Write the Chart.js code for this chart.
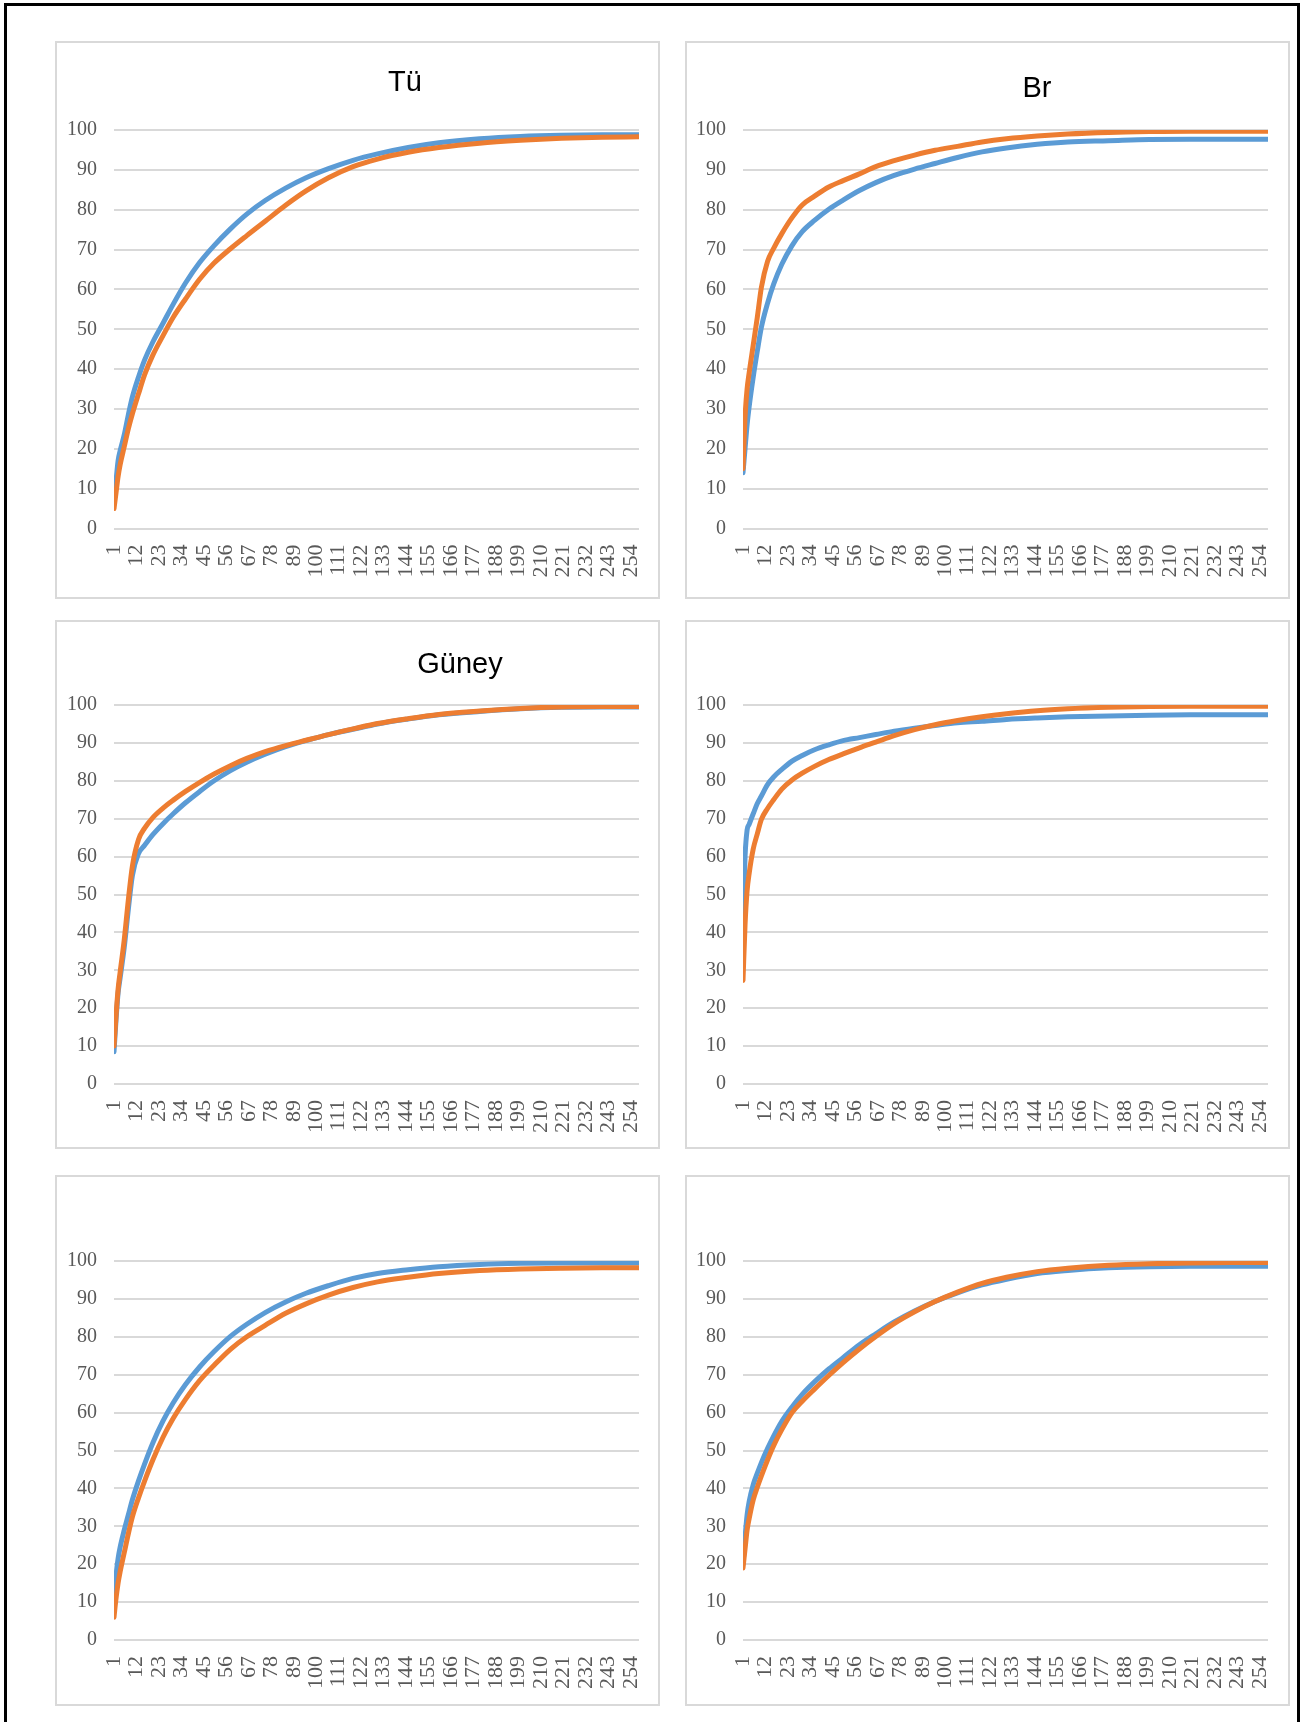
<!DOCTYPE html>
<html>
<head>
<meta charset="utf-8">
<title>Cumulative curves</title>
<script src="https://cdn.jsdelivr.net/npm/chart.js@4.4.1/dist/chart.umd.min.js"></script>
<style>
  body { margin: 0; background: #fff; }
  #page { position: relative; width: 1304px; height: 1722px; overflow: hidden; background: #fff; }
  #frame { position: absolute; left: 4px; top: 3px; width: 1296px; height: 1740px; border: 3px solid #000; box-sizing: border-box; }
  .panel { position: absolute; box-sizing: border-box; border: 2px solid #d9d9d9; background: #fff; }
  .panel canvas { display: block; }
  .title { position: absolute; font-family: "Liberation Sans", Arial, sans-serif; font-size: 29px; line-height: 29px; color: #000; transform: translateX(-50%); white-space: nowrap; }
</style>
</head>
<body>
<div id="page">
  <div id="frame"></div>
</div>
<script>
const sampleAt = [1, 2, 3, 4, 6, 8, 10, 13, 16, 20, 25, 30, 36, 43, 50, 58, 66, 75, 85, 95, 106, 118, 130, 145, 160, 180, 200, 220, 240, 258];
const xTickLabels = [1, 12, 23, 34, 45, 56, 67, 78, 89, 100, 111, 122, 133, 144, 155, 166, 177, 188, 199, 210, 221, 232, 243, 254];
const yTickLabels = [0, 10, 20, 30, 40, 50, 60, 70, 80, 90, 100];
const lastCategory = 258;

// Tü
const tuBlue   = [7, 12, 17, 19.5, 23.5, 28.5, 33, 38, 42.3, 46.8, 51.5, 56.3, 61.6, 66.8, 71, 75.2, 78.9, 82.3, 85.4, 88, 90.3, 92.4, 94, 95.6, 96.8, 97.8, 98.4, 98.7, 98.8, 98.8];
const tuOrange = [5, 9, 13, 16, 20.5, 25, 28.8, 33.8, 38.6, 43.5, 48.4, 53, 57.6, 62.6, 66.6, 70.2, 73.5, 77.1, 81.1, 84.7, 88, 90.8, 92.7, 94.4, 95.6, 96.7, 97.4, 97.9, 98.2, 98.3];
// Br
const brBlue   = [14, 20, 26, 30.5, 38, 44.5, 50.5, 56.5, 61.3, 66.3, 71, 74.5, 77.3, 80.1, 82.4, 84.8, 86.8, 88.6, 90.2, 91.6, 93.1, 94.5, 95.5, 96.4, 97, 97.3, 97.6, 97.7, 97.7, 97.7];
const brOrange = [15, 28, 35, 39, 46, 53, 60.5, 67, 70.3, 74, 78, 81.2, 83.4, 85.7, 87.3, 89, 90.8, 92.3, 93.7, 94.9, 95.9, 97, 97.8, 98.5, 99, 99.4, 99.6, 99.7, 99.7, 99.7];
// Güney
const guneyBlue   = [8.5, 17, 24, 28, 36, 46, 55, 60.8, 63, 65.8, 68.7, 71.3, 74.2, 77.2, 80, 82.7, 84.9, 87, 89, 90.6, 92.2, 93.6, 95, 96.3, 97.4, 98.3, 99, 99.4, 99.5, 99.5];
const guneyOrange = [10, 18, 25, 29.5, 38, 48.5, 57.5, 64.5, 67.5, 70.3, 72.8, 74.9, 77.2, 79.6, 81.8, 84, 85.9, 87.7, 89.3, 90.7, 92.2, 93.7, 95.1, 96.4, 97.5, 98.4, 99.1, 99.5, 99.6, 99.6];
// middle right
const midBlue   = [42, 60, 67, 68.5, 71.3, 74, 76, 79, 81, 83, 85.2, 86.7, 88.2, 89.5, 90.6, 91.4, 92.2, 93.1, 93.9, 94.6, 95.3, 95.7, 96.2, 96.6, 96.9, 97.1, 97.3, 97.4, 97.4, 97.4];
const midOrange = [27.3, 42, 51, 55.5, 62, 66, 69.8, 72.7, 75, 77.8, 80.2, 82, 83.8, 85.6, 87.1, 88.7, 90.2, 91.9, 93.5, 94.8, 95.9, 96.9, 97.7, 98.5, 99, 99.4, 99.6, 99.7, 99.7, 99.7];
// bottom left
const lowLeftBlue   = [10, 17, 21.5, 24.5, 29, 33, 37, 42, 46.5, 52, 57.8, 62.6, 67.4, 72.1, 76.1, 80.1, 83.3, 86.4, 89.2, 91.5, 93.5, 95.4, 96.7, 97.7, 98.5, 99.1, 99.4, 99.5, 99.5, 99.5];
const lowLeftOrange = [6, 11, 15, 18, 23, 28, 32.5, 37.5, 42, 47.5, 53.5, 58.5, 63.5, 68.5, 72.5, 76.7, 80, 83, 86.2, 88.7, 91, 93, 94.5, 95.7, 96.7, 97.5, 97.9, 98.1, 98.2, 98.2];
// bottom right
const lowRightBlue   = [20, 27, 33, 36.5, 41, 44, 46.8, 50.5, 53.8, 57.7, 61.5, 64.8, 68.1, 71.5, 74.5, 77.9, 80.8, 83.9, 86.8, 89.3, 91.6, 93.7, 95.2, 96.7, 97.5, 98.2, 98.5, 98.6, 98.6, 98.6];
const lowRightOrange = [19, 24, 29, 32, 37, 40.3, 43.3, 47.5, 51.3, 55.5, 60, 63, 66.2, 69.8, 73.2, 76.8, 80.1, 83.5, 86.6, 89.3, 91.8, 94.1, 95.7, 97.2, 98.1, 98.9, 99.3, 99.5, 99.6, 99.6];

const BLUE = "#5b9bd5";
const ORANGE = "#ed7d31";
const GRID = "#d9d9d9";
const LABEL = "#595959";

// layout of the six boxes
const panels = [
    { title: "Tü",    titleX: 405,  titleTop: 67,  left: 55,  top: 41,   height: 558, plotTop: 87,  xAxisH: 68.5, yAxisW: 57, padRight: 19, blue: tuBlue,       orange: tuOrange },
    { title: "Br",    titleX: 1037, titleTop: 73,  left: 685, top: 41,   height: 558, plotTop: 87,  xAxisH: 68.5, yAxisW: 56, padRight: 20, blue: brBlue,       orange: brOrange },
    { title: "Güney", titleX: 460,  titleTop: 649, left: 55,  top: 620,  height: 529, plotTop: 83,  xAxisH: 63,   yAxisW: 57, padRight: 19, blue: guneyBlue,    orange: guneyOrange },
    { title: "",      titleX: 0,    titleTop: 0,   left: 685, top: 620,  height: 529, plotTop: 83,  xAxisH: 63,   yAxisW: 56, padRight: 20, blue: midBlue,      orange: midOrange },
    { title: "",      titleX: 0,    titleTop: 0,   left: 55,  top: 1175, height: 531, plotTop: 84,  xAxisH: 64,   yAxisW: 57, padRight: 19, blue: lowLeftBlue,  orange: lowLeftOrange },
    { title: "",      titleX: 0,    titleTop: 0,   left: 685, top: 1175, height: 531, plotTop: 84,  xAxisH: 64,   yAxisW: 56, padRight: 20, blue: lowRightBlue, orange: lowRightOrange }
];

Chart.defaults.font.family = "'Liberation Serif', 'Times New Roman', serif";

function toPoints(values) {
    return sampleAt.map((x, i) => ({ x: x, y: values[i] }));
}

function renderPanel(p) {
    const page = document.getElementById("page");
    const box = document.createElement("div");
    box.className = "panel";
    box.style.left = p.left + "px";
    box.style.top = p.top + "px";
    box.style.width = "605px";
    box.style.height = p.height + "px";
    const canvas = document.createElement("canvas");
    canvas.width = 601;
    canvas.height = p.height - 4;
    box.appendChild(canvas);
    page.appendChild(box);

    if (p.title) {
        const t = document.createElement("div");
        t.className = "title";
        t.textContent = p.title;
        t.style.left = p.titleX + "px";
        t.style.top = p.titleTop + "px";
        page.appendChild(t);
    }

    new Chart(canvas.getContext("2d"), {
        type: "line",
        data: {
            datasets: [
                { label: "1", data: toPoints(p.blue), borderColor: BLUE, backgroundColor: BLUE, order: 1 },
                { label: "2", data: toPoints(p.orange), borderColor: ORANGE, backgroundColor: ORANGE, order: 0 }
            ]
        },
        options: {
            responsive: false,
            animation: false,
            layout: { padding: { top: p.plotTop, right: p.padRight, left: 0, bottom: 0 } },
            plugins: { legend: { display: false }, tooltip: { enabled: false } },
            elements: {
                point: { radius: 0 },
                line: { borderWidth: 5, cubicInterpolationMode: "monotone", borderCapStyle: "round", borderJoinStyle: "round" }
            },
            scales: {
                x: {
                    type: "linear", min: 1, max: lastCategory,
                    grid: { display: false, drawTicks: false },
                    border: { display: false },
                    afterBuildTicks: axis => { axis.ticks = xTickLabels.map(v => ({ value: v })); },
                    afterFit: axis => { axis.height = p.xAxisH; axis.paddingLeft = 0; axis.paddingRight = 0; },
                    ticks: { autoSkip: false, minRotation: 90, maxRotation: 90, padding: 16, color: LABEL, font: { size: 22 }, callback: v => String(v) }
                },
                y: {
                    min: 0, max: 100,
                    grid: { color: GRID, lineWidth: 2, drawTicks: false },
                    border: { display: false },
                    afterBuildTicks: axis => { axis.ticks = yTickLabels.map(v => ({ value: v })); },
                    afterFit: axis => { axis.width = p.yAxisW; axis.paddingTop = 0; axis.paddingBottom = 0; },
                    ticks: { padding: 17, color: LABEL, font: { size: 20 }, callback: v => String(v) }
                }
            }
        }
    });
}

panels.forEach(renderPanel);
</script>
</body>
</html>
